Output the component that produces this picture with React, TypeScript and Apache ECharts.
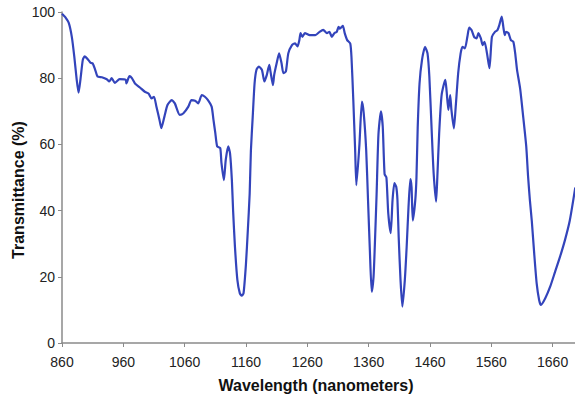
import React, { useEffect, useRef } from "react";
import * as echarts from "echarts";

const wavelengths = [
  860, 865, 871, 876, 880, 884, 887, 890, 894, 897, 903, 907, 910, 914, 918, 925, 933, 937, 941, 946,
  954, 964, 965, 970, 974, 979, 987, 995, 1001, 1006, 1010, 1014, 1019, 1022, 1027, 1032, 1039, 1044,
  1052, 1058, 1066, 1071, 1077, 1082, 1088, 1093, 1098, 1104, 1107, 1110, 1113, 1118, 1120, 1124, 1127,
  1131, 1134, 1137, 1139, 1142, 1146, 1150, 1153, 1156, 1160, 1163, 1166, 1168, 1171, 1174, 1177, 1181,
  1186, 1190, 1194, 1198, 1200, 1204, 1206, 1210, 1214, 1218, 1221, 1225, 1229, 1235, 1240, 1244, 1247,
  1249, 1252, 1256, 1264, 1273, 1280, 1286, 1292, 1296, 1300, 1304, 1308, 1311, 1313, 1318, 1321, 1325,
  1330, 1332, 1335, 1338, 1340, 1345, 1349, 1352, 1356, 1359, 1362, 1365, 1368, 1370, 1373, 1376, 1380,
  1383, 1386, 1389, 1392, 1396, 1399, 1402, 1405, 1407, 1409, 1412, 1415, 1419, 1422, 1425, 1428, 1430,
  1432, 1436, 1438, 1440, 1443, 1447, 1452, 1456, 1459, 1463, 1466, 1470, 1472, 1475, 1479, 1485, 1487,
  1490, 1493, 1495, 1499, 1502, 1506, 1510, 1513, 1517, 1521, 1524, 1528, 1532, 1536, 1539, 1543, 1546,
  1549, 1553, 1557, 1561, 1566, 1570, 1573, 1577, 1580, 1582, 1584, 1588, 1592, 1596, 1599, 1602, 1607,
  1612, 1617, 1620, 1623, 1626, 1630, 1634, 1638, 1641, 1648, 1656, 1664, 1672, 1680, 1688, 1697,
];

const transmittance = [
  99.5, 98.5, 96.7, 92.5, 86.6, 79.5, 75.6, 79.5, 85.6, 86.6, 85.5, 84.6, 84.5, 82.6, 80.5, 80.3, 79.7, 79.0, 80.0, 78.6,
  79.7, 79.5, 78.4, 80.6, 80.0, 78.4, 77.2, 75.9, 75.4, 73.9, 74.4, 71.4, 67.4, 64.9, 68.4, 71.9, 73.4, 72.4,
  68.9, 69.4, 71.4, 73.4, 73.2, 72.4, 74.9, 74.4, 73.4, 71.4, 67.4, 63.4, 59.4, 58.9, 54.4, 49.2, 55.3,
  59.4, 57.3, 49.2, 40, 29.1, 19, 15, 14.3, 15, 24, 34, 45, 58, 68.4, 78.4, 82.5, 83.5,
  82.5, 79, 81, 84, 82, 77.9, 81, 84.5, 87.5, 84.5, 81.5, 82, 87.5, 90, 90.5, 89.6, 91.5,
  93.6, 92.5, 93.6, 93, 93, 94, 94.6, 93.6, 94, 92.5, 93.6, 94, 95.5, 95, 95.8, 93.6, 91.5,
  90.5, 86.5, 73.4, 58.3, 47.7, 60, 72.9, 69.4, 58.3, 43.2, 28, 15.5, 20, 29, 45, 63, 70,
  65.4, 51, 50, 39.2, 33.2, 43.2, 48.3, 47.2, 43.2, 32, 19, 11, 19, 29, 41, 49.5, 47,
  37, 43, 50, 65, 78.4, 85.5, 89.5, 87.5, 80.5, 63.3, 51.3, 42.7, 50, 63.3, 74.9, 79.5, 76.4,
  70.4, 74.9, 70.4, 64.8, 71.4, 81.5, 87.5, 89.5, 89, 92.5, 95.3, 94.5, 92.5, 92, 93.6, 92, 90,
  91, 87.5, 83, 92.5, 94, 94.5, 96, 98.6, 95, 93, 94, 93.6, 91.5, 91, 87.5, 82.5, 76.9,
  68.4, 59.4, 50.3, 43, 37, 27, 18, 13, 11.5, 13.5, 17, 21.5, 26, 31, 37, 47,
];

const xTickLabels = [860, 960, 1060, 1160, 1260, 1360, 1460, 1560, 1660];
const yTickLabels = [0, 20, 40, 60, 80, 100];

const xTitle = "Wavelength (nanometers)";
const yTitle = "Transmittance (%)";

const FONT = 'Arial, "Liberation Sans", sans-serif';

export default function App() {
  const ref = useRef<HTMLDivElement>(null);

  useEffect(() => {
    if (!ref.current) return;
    const chart = echarts.init(ref.current, null, { renderer: "svg" });
    const points = wavelengths.map((w, i) => [w, transmittance[i]]);
    chart.setOption({
      animation: false,
      backgroundColor: "#ffffff",
      grid: { left: 62, right: 0, top: 12, bottom: 54, containLabel: false },
      xAxis: {
        type: "value",
        min: 860,
        max: 1696.5,
        interval: 100,
        splitLine: { show: false },
        axisLine: { show: true, lineStyle: { color: "#8a8a8a", width: 1.5 } },
        axisTick: {
          show: true,
          length: 4,
          lineStyle: { color: "#8a8a8a" },
          customValues: xTickLabels,
        },
        axisLabel: {
          color: "#222",
          fontSize: 14,
          fontFamily: FONT,
          margin: 12,
          customValues: xTickLabels,
          formatter: (v: number) => String(v),
        },
      },
      yAxis: {
        type: "value",
        min: 0,
        max: 100,
        interval: 20,
        splitLine: { show: false },
        axisLine: { show: true, lineStyle: { color: "#8a8a8a", width: 1.5 } },
        axisTick: {
          show: true,
          length: 4,
          lineStyle: { color: "#8a8a8a" },
          customValues: yTickLabels,
        },
        axisLabel: {
          color: "#222",
          fontSize: 14,
          fontFamily: FONT,
          margin: 7,
          customValues: yTickLabels,
          formatter: (v: number) => String(v),
        },
      },
      graphic: [
        {
          type: "text",
          x: 316,
          y: 385,
          style: {
            text: xTitle,
            font: `bold 16px ${FONT}`,
            fill: "#111",
            textAlign: "center",
            textVerticalAlign: "middle",
          },
        },
        {
          type: "text",
          x: 18,
          y: 190,
          rotation: Math.PI / 2,
          style: {
            text: yTitle,
            font: `bold 16px ${FONT}`,
            fill: "#111",
            textAlign: "center",
            textVerticalAlign: "middle",
          },
        },
      ],
      series: [
        {
          type: "line",
          data: points,
          showSymbol: false,
          smooth: 0.2,
          clip: true,
          lineStyle: { color: "#3344bb", width: 2.2 },
        },
      ],
    });
    return () => chart.dispose();
  }, []);

  return (
    <div
      ref={ref}
      style={{ position: "fixed", left: 0, top: 0, width: 575, height: 397 }}
    />
  );
}
